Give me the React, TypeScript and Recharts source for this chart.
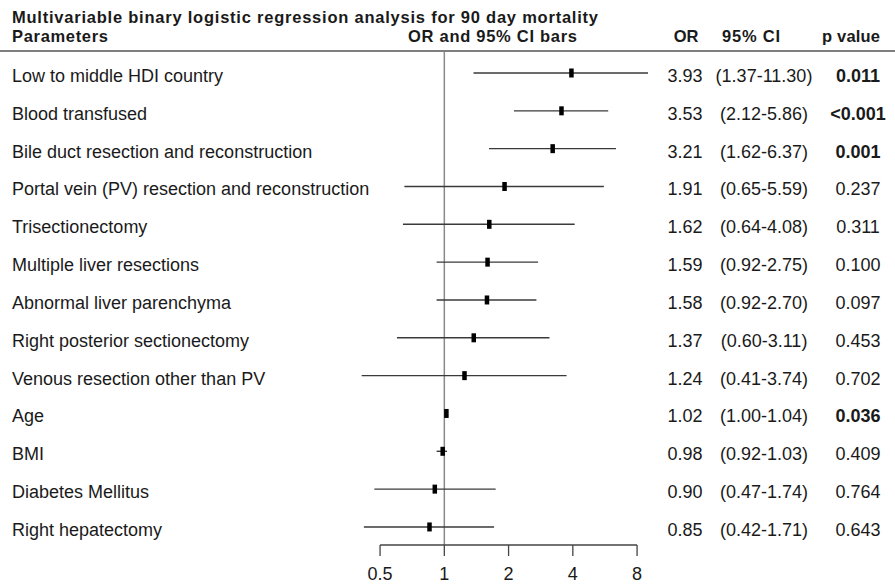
import {
  ErrorBar,
  ReferenceLine,
  Scatter,
  ScatterChart,
  XAxis,
  YAxis,
} from "recharts";

const parameters = [
  "Low to middle HDI country",
  "Blood transfused",
  "Bile duct resection and reconstruction",
  "Portal vein (PV) resection and reconstruction",
  "Trisectionectomy",
  "Multiple liver resections",
  "Abnormal liver parenchyma",
  "Right posterior sectionectomy",
  "Venous resection other than PV",
  "Age",
  "BMI",
  "Diabetes Mellitus",
  "Right hepatectomy",
];
const oddsRatios = [3.93, 3.53, 3.21, 1.91, 1.62, 1.59, 1.58, 1.37, 1.24, 1.02, 0.98, 0.9, 0.85];
const ciLow = [1.37, 2.12, 1.62, 0.65, 0.64, 0.92, 0.92, 0.6, 0.41, 1.0, 0.92, 0.47, 0.42];
const ciHigh = [11.3, 5.86, 6.37, 5.59, 4.08, 2.75, 2.7, 3.11, 3.74, 1.04, 1.03, 1.74, 1.71];
const pValues = ["0.011", "<0.001", "0.001", "0.237", "0.311", "0.100", "0.097", "0.453", "0.702", "0.036", "0.409", "0.764", "0.643"];
const xTicks = [0.5, 1, 2, 4, 8];

const FONT = '"Liberation Sans", Arial, sans-serif';
const TEXT = "#1a1a1a";
const X_DOMAIN: [number, number] = [0.35, 9];
const Y_DOMAIN: [number, number] = [-0.555, 12.477];

// CI bars are cut off at the edge of the plotting range, like the original figure
const rows = parameters.map((name, i) => ({
  name,
  x: oddsRatios[i],
  y: i,
  err: [
    oddsRatios[i] - Math.max(ciLow[i], X_DOMAIN[0]),
    Math.min(ciHigh[i], X_DOMAIN[1]) - oddsRatios[i],
  ],
}));

const fmt2 = (v: number) => v.toFixed(2);

function LeftTick(props: any) {
  const { y, payload } = props;
  return (
    <text x={12} y={y + 9} fontSize={18} fontFamily={FONT} fill={TEXT}>
      {parameters[payload.value]}
    </text>
  );
}

function RightTick(props: any) {
  const { y, payload } = props;
  const i = payload.value;
  const p = pValues[i];
  const sig = p.startsWith("<") || parseFloat(p) < 0.05;
  return (
    <g fontSize={18} fontFamily={FONT} fill={TEXT}>
      <text x={685} y={y + 9} textAnchor="middle">
        {fmt2(oddsRatios[i])}
      </text>
      <text x={764} y={y + 9} textAnchor="middle">
        ({fmt2(ciLow[i])}-{fmt2(ciHigh[i])})
      </text>
      <text x={858} y={y + 9} textAnchor="middle" fontWeight={sig ? "bold" : "normal"}>
        {p}
      </text>
    </g>
  );
}

function BottomTick(props: any) {
  const { x, payload } = props;
  return (
    <text x={x} y={580} textAnchor="middle" fontSize={18} fontFamily={FONT} fill={TEXT}>
      {payload.value}
    </text>
  );
}

function Marker(props: any) {
  const { cx, cy } = props;
  return <rect x={cx - 2} y={cy - 4.5} width={4.5} height={9} fill="#000" />;
}

export default function App() {
  return (
    <div style={{ position: "absolute", left: 0, top: 0, width: 895, height: 585, background: "#fff" }}>
      <ScatterChart width={895} height={585} margin={{ top: 52, right: 0, bottom: 0, left: 0 }}>
        <XAxis
          type="number"
          dataKey="x"
          scale="log"
          domain={X_DOMAIN}
          allowDataOverflow
          ticks={xTicks}
          axisLine={false}
          tickLine={{ stroke: "#444", strokeWidth: 1.3 }}
          tickSize={11}
          tick={<BottomTick />}
          height={40}
        />
        <YAxis
          yAxisId="left"
          type="number"
          dataKey="y"
          domain={Y_DOMAIN}
          allowDataOverflow
          reversed
          ticks={parameters.map((_, i) => i)}
          interval={0}
          width={347}
          axisLine={false}
          tickLine={false}
          tick={<LeftTick />}
        />
        <YAxis
          yAxisId="right"
          orientation="right"
          type="number"
          domain={Y_DOMAIN}
          allowDataOverflow
          reversed
          ticks={parameters.map((_, i) => i)}
          interval={0}
          width={247}
          axisLine={false}
          tickLine={false}
          tick={<RightTick />}
        />
        <ReferenceLine yAxisId="left" x={1} stroke="#8a8a8a" strokeWidth={1.5} />
        <ReferenceLine
          yAxisId="left"
          segment={[
            { x: 0.5, y: Y_DOMAIN[1] },
            { x: 8, y: Y_DOMAIN[1] },
          ]}
          stroke="#444"
          strokeWidth={1.3}
          ifOverflow="visible"
        />
        <Scatter yAxisId="left" data={rows} shape={<Marker />} isAnimationActive={false}>
          <ErrorBar dataKey="err" direction="x" width={0} stroke="#3a3a3a" strokeWidth={1.4} isAnimationActive={false} />
        </Scatter>
      </ScatterChart>
      <svg width={895} height={60} style={{ position: "absolute", left: 0, top: 0 }} fontFamily={FONT}>
        <g fontSize={16.5} fontWeight="bold" fill={TEXT}>
          <text x={12} y={23.3} textLength={586}>
            Multivariable binary logistic regression analysis for 90 day mortality
          </text>
          <text x={12} y={41.7} textLength={96}>Parameters</text>
          <text x={408} y={41.7} textLength={169}>OR and 95% CI bars</text>
          <text x={686} y={41.7} textAnchor="middle">OR</text>
          <text x={722} y={41.7} textLength={58}>95% CI</text>
          <text x={822} y={41.7} textLength={58}>p value</text>
        </g>
        <line x1={0} x2={895} y1={51} y2={51} stroke="#555" strokeWidth={1.6} />
      </svg>
    </div>
  );
}
